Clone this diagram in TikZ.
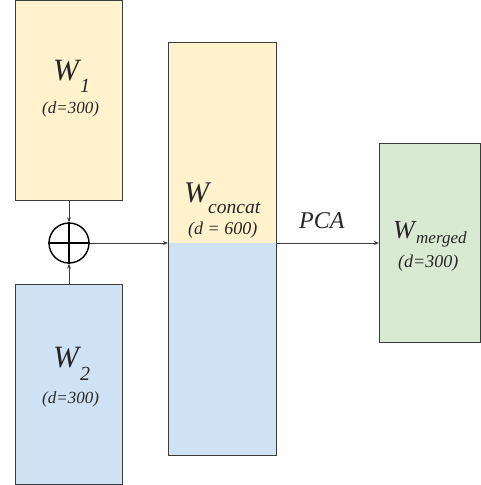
\documentclass[tikz,border=0pt]{standalone}
\usepackage{fontspec}
\setmainfont{Liberation Serif}
\usetikzlibrary{arrows.meta}
\definecolor{yel}{HTML}{FFF2CC}
\definecolor{blu}{HTML}{CFE2F3}
\definecolor{grn}{HTML}{D9EAD3}
\definecolor{edge}{HTML}{3C3C3C}
\tikzset{
  box/.style={draw=edge, line width=0.9pt, inner sep=0pt, anchor=north west},
  lbl/.style={inner sep=0pt, anchor=base west, text=black!85},
  conn/.style={draw=edge, line width=0.8pt, -{Stealth[length=5pt,width=4pt]}},
}
\newcommand{\fs}[1]{\rmfamily\itshape\fontsize{#1}{#1}\selectfont}
\begin{document}
\begin{tikzpicture}[x=1pt, y=-1pt]
\useasboundingbox (0,0) rectangle (481,485);
% input blocks
\node[box, fill=yel, minimum width=107, minimum height=200] (w1) at (15,0) {};
\node[box, fill=blu, minimum width=107, minimum height=200] (w2) at (15,284) {};
% concatenated block: yellow upper half, blue lower half
\fill[yel] (168,42) rectangle (276,243);
\fill[blu] (168,243) rectangle (276,455);
\node[box, minimum width=108, minimum height=413] (wc) at (168,42) {};
\coordinate (wcout) at (276,243);
% merged block
\node[box, fill=grn, minimum width=101, minimum height=199] (wm) at (379,143) {};
% concatenation operator
\node[draw=black, line width=1.4pt, circle, minimum size=40, inner sep=0pt] (op) at (69,243) {};
\draw[line width=1.4pt] (op.north) -- (op.south) (op.west) -- (op.east);
% connectors
\draw[conn] (w1.south -| op.north) -- (op.north);
\draw[conn] (w2.north -| op.south) -- (op.south);
\draw[conn] (op.east) -- (op.east -| wc.west);
\draw[conn] (wcout) -- (wcout -| wm.west);
% labels
\node[lbl, font=\fs{31}] (w1a) at (53,80) {W};
\node[lbl, font=\fs{20}] (w1b) at (80,92) {1};
\node[lbl, font=\fs{17}] (w1c) at (42,113) {(d=300)};
\node[lbl, font=\fs{31}] (w2a) at (53,367) {W};
\node[lbl, font=\fs{20}] (w2b) at (80,380) {2};
\node[lbl, font=\fs{17}] (w2c) at (42,403) {(d=300)};
\node[lbl, font=\fs{30}] (wca) at (184,202) {W};
\node[lbl, font=\fs{19.5}] (wcb) at (208,213) {concat};
\node[lbl, font=\fs{18}] (wcc) at (188,234) {(d = 600)};
\node[lbl, font=\fs{26}] (wma) at (393,238) {W};
\node[lbl, font=\fs{17}] (wmb) at (416,243) {merged};
\node[lbl, font=\fs{18}] (wmc) at (398,267) {(d=300)};
\node[lbl, font=\fs{24}] (pca) at (299,228) {PCA};
\end{tikzpicture}
\end{document}
